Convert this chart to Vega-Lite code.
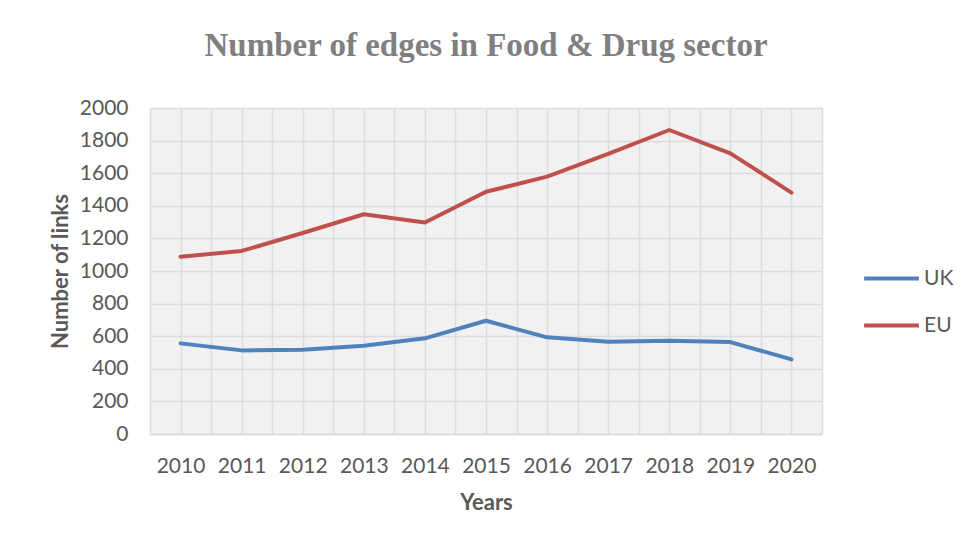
{
  "$schema": "https://vega.github.io/schema/vega-lite/v6.json",
  "width": 672,
  "height": 326,
  "autosize": {"type": "none"},
  "padding": {"left": 150, "top": 108, "right": 154, "bottom": 100},
  "background": "white",
  "title": {
    "text": "Number of edges in Food & Drug sector",
    "font": "Liberation Serif",
    "fontSize": 33,
    "fontWeight": "bold",
    "color": "#7f7f7f",
    "anchor": "middle",
    "offset": 34
  },
  "data": {
    "values": [
      {"year": 2010, "series": "UK", "value": 556},
      {"year": 2011, "series": "UK", "value": 513},
      {"year": 2012, "series": "UK", "value": 517},
      {"year": 2013, "series": "UK", "value": 542},
      {"year": 2014, "series": "UK", "value": 587},
      {"year": 2015, "series": "UK", "value": 695},
      {"year": 2016, "series": "UK", "value": 593},
      {"year": 2017, "series": "UK", "value": 566},
      {"year": 2018, "series": "UK", "value": 572},
      {"year": 2019, "series": "UK", "value": 564},
      {"year": 2020, "series": "UK", "value": 458},
      {"year": 2010, "series": "EU", "value": 1088},
      {"year": 2011, "series": "EU", "value": 1123},
      {"year": 2012, "series": "EU", "value": 1233},
      {"year": 2013, "series": "EU", "value": 1348},
      {"year": 2014, "series": "EU", "value": 1298},
      {"year": 2015, "series": "EU", "value": 1486},
      {"year": 2016, "series": "EU", "value": 1579},
      {"year": 2017, "series": "EU", "value": 1718},
      {"year": 2018, "series": "EU", "value": 1865},
      {"year": 2019, "series": "EU", "value": 1722},
      {"year": 2020, "series": "EU", "value": 1481}
    ]
  },
  "mark": {"type": "line", "strokeWidth": 4, "strokeCap": "round", "strokeJoin": "round"},
  "encoding": {
    "x": {
      "field": "year",
      "type": "quantitative",
      "scale": {"domain": [2009.5, 2020.5], "nice": false, "zero": false},
      "axis": {
        "title": "Years",
        "values": [2009.5, 2010, 2010.5, 2011, 2011.5, 2012, 2012.5, 2013, 2013.5, 2014, 2014.5, 2015, 2015.5, 2016, 2016.5, 2017, 2017.5, 2018, 2018.5, 2019, 2019.5, 2020, 2020.5],
        "labelExpr": "datum.value % 1 == 0 ? datum.value : ''",
        "labelFont": "Lato",
        "labelFontSize": 21,
        "labelColor": "#595959",
        "labelPadding": 21,
        "labelFlush": false,
        "labelOverlap": false,
        "ticks": false,
        "domain": true,
        "domainColor": "#d9d9d9",
        "domainWidth": 1.5,
        "grid": true,
        "gridColor": "#dcdcdc",
        "gridWidth": 1.5,
        "titleFont": "Lato",
        "titleFontSize": 22,
        "titleFontWeight": "bold",
        "titleColor": "#595959",
        "titlePadding": 16
      }
    },
    "y": {
      "field": "value",
      "type": "quantitative",
      "scale": {"domain": [0, 2000], "nice": false},
      "axis": {
        "title": "Number of links",
        "values": [0, 200, 400, 600, 800, 1000, 1200, 1400, 1600, 1800, 2000],
        "format": "d",
        "labelFont": "Lato",
        "labelFontSize": 21,
        "labelColor": "#595959",
        "labelPadding": 22,
        "ticks": false,
        "domain": false,
        "grid": true,
        "gridColor": "#dcdcdc",
        "gridWidth": 1.5,
        "titleFont": "Lato",
        "titleFontSize": 22,
        "titleFontWeight": "bold",
        "titleColor": "#595959",
        "titlePadding": 7
      }
    },
    "color": {
      "field": "series",
      "type": "nominal",
      "scale": {"domain": ["UK", "EU"], "range": ["#4f81bd", "#c0504d"]},
      "legend": {
        "title": null,
        "orient": "none",
        "legendX": 712,
        "legendY": 141,
        "symbolType": "stroke",
        "symbolSize": 3000,
        "symbolStrokeWidth": 4,
        "labelFont": "Lato",
        "labelFontSize": 21,
        "labelColor": "#595959",
        "labelOffset": 3,
        "rowPadding": 7
      }
    }
  },
  "config": {
    "view": {"fill": "#f1f1f1", "stroke": null}
  }
}
